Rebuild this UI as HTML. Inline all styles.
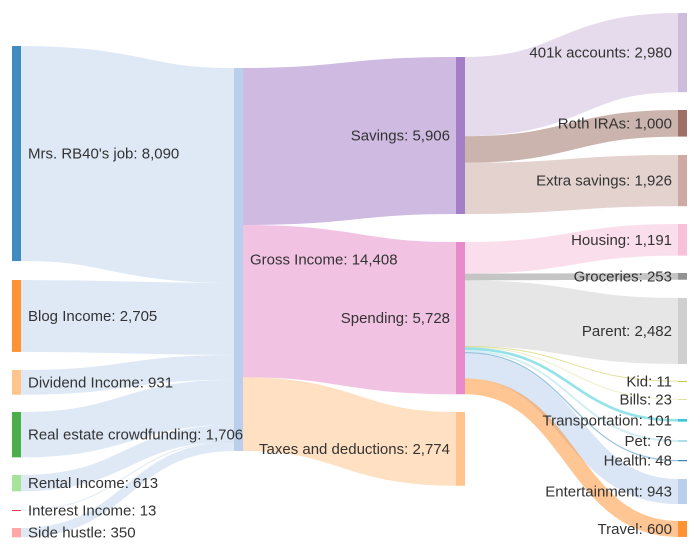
<!DOCTYPE html>
<html><head><meta charset="utf-8">
<style>
html,body{margin:0;padding:0;background:#fff;}
svg{display:block;}
text{font-family:"Liberation Sans",Arial,sans-serif;font-size:15px;fill:#333;}
</style></head>
<body>
<svg id="chart" width="700" height="550"></svg>
<script>
const nodeNames = ["Mrs. RB40's job","Blog Income","Dividend Income","Real estate crowdfunding","Rental Income","Interest Income","Side hustle",
"Gross Income","Savings","Spending","Taxes and deductions",
"401k accounts","Roth IRAs","Extra savings","Housing","Groceries","Parent","Kid","Bills","Transportation","Pet","Health","Entertainment","Travel"];
const linkSources = [0,1,2,3,4,5,6, 7,7,7, 8,8,8, 9,9,9,9,9,9,9,9,9,9];
const linkTargets = [7,7,7,7,7,7,7, 8,9,10, 11,12,13, 14,15,16,17,18,19,20,21,22,23];
const linkValues = [8090,2705,931,1706,613,13,350, 5906,5728,2774, 2980,1000,1926, 1191,253,2482,11,23,101,76,48,943,600];

const colors=["#1f77b4","#ff7f0e","#ffbb78","#2ca02c","#98df8a","#d62728","#ff9896","#aec7e8","#9467bd","#e377c2","#ffbb78",
"#c5b0d5","#8c564b","#c49c94","#f7b6d2","#7f7f7f","#c7c7c7","#bcbd22","#dbdb8d","#17becf","#9edae5","#1f77b4","#aec7e8","#ff7f0e"];
const col=[0,0,0,0,0,0,0,1,2,2,2,3,3,3,3,3,3,3,3,3,3,3,3,3];
const colX=[12,234,456,678];
const tops=[46,280,370,412,475,510,528, 68, 57,242,412, 13,110,155,224,273,298,381,399,419,440,460,479,521];
const k=383/14408;
const NS="http://www.w3.org/2000/svg";
const svg=document.getElementById('chart');
const n=nodeNames.length;
const val=new Array(n).fill(0),inV=new Array(n).fill(0),outV=new Array(n).fill(0);
linkValues.forEach((v,i)=>{outV[linkSources[i]]+=v;inV[linkTargets[i]]+=v;});
for(let i=0;i<n;i++)val[i]=Math.max(inV[i],outV[i]);
const sy=tops.slice(),ty=tops.slice();
const gL=document.createElementNS(NS,'g');svg.appendChild(gL);
const gN=document.createElementNS(NS,'g');svg.appendChild(gN);
const gT=document.createElementNS(NS,'g');svg.appendChild(gT);
linkValues.forEach((v,i)=>{
  const s=linkSources[i],t=linkTargets[i],h=v*k;
  const x0=colX[col[s]]+9,x1=colX[col[t]];
  const y0=sy[s]+h/2,y1=ty[t]+h/2;sy[s]+=h;ty[t]+=h;
  const xm=(x0+x1)/2;
  const p=document.createElementNS(NS,'path');
  p.setAttribute('d',`M${x0},${y0}C${xm},${y0} ${xm},${y1} ${x1},${y1}`);
  p.setAttribute('fill','none');
  p.setAttribute('stroke',colors[t]);
  p.setAttribute('stroke-opacity',col[s]===0?0.4:0.45);
  p.setAttribute('stroke-width',Math.max(1,h));
  
  
  gL.appendChild(p);
});
for(let i=0;i<n;i++){
  const h=Math.max(1,val[i]*k),x=colX[col[i]];
  const r=document.createElementNS(NS,'rect');
  r.setAttribute('x',x);r.setAttribute('y',tops[i]);r.setAttribute('width',9);r.setAttribute('height',h);
  r.setAttribute('fill',colors[i]);r.setAttribute('fill-opacity',0.85);
  
  
  gN.appendChild(r);
  const tx=document.createElementNS(NS,'text');
  let lx,anchor;
  if(col[i]===0){lx=28;anchor='start';}
  else if(col[i]===1){lx=250;anchor='start';}
  else {lx=x-6;anchor='end';}
  tx.setAttribute('x',lx);tx.setAttribute('y',tops[i]+h/2+5);
  tx.setAttribute('text-anchor',anchor);
  tx.textContent=nodeNames[i]+': '+val[i].toLocaleString('en-US');
  
  
  gT.appendChild(tx);
}
</script>
</body></html>
